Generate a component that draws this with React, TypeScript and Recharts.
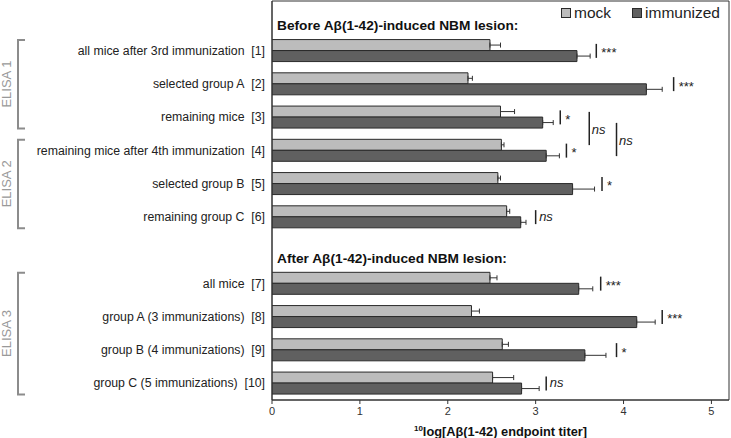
import React from 'react';
import {
  BarChart,
  Bar,
  XAxis,
  YAxis,
  ErrorBar,
  ReferenceArea,
  ReferenceDot,
  ReferenceLine,
  Legend,
} from 'recharts';

// ---------- data ----------
const rowKeys = ['1', '2', '3', '4', '5', '6', '7', '8', '9', '10'];
const rowLabels = [
  'all mice after 3rd immunization\u00A0\u00A0[1]',
  'selected group A\u00A0\u00A0[2]',
  'remaining mice\u00A0\u00A0[3]',
  'remaining mice after 4th immunization\u00A0\u00A0[4]',
  'selected group B\u00A0\u00A0[5]',
  'remaining group C\u00A0\u00A0[6]',
  'all mice\u00A0\u00A0[7]',
  'group A (3 immunizations)\u00A0\u00A0[8]',
  'group B (4 immunizations)\u00A0\u00A0[9]',
  'group C (5 immunizations)\u00A0\u00A0[10]',
];
const mockValues = [2.48, 2.23, 2.6, 2.61, 2.57, 2.67, 2.48, 2.27, 2.62, 2.51];
const mockErrors = [0.12, 0.05, 0.16, 0.03, 0.03, 0.035, 0.08, 0.09, 0.07, 0.24];
const immunizedValues = [3.47, 4.26, 3.08, 3.12, 3.42, 2.83, 3.49, 4.15, 3.56, 2.84];
const immunizedErrors = [0.15, 0.18, 0.12, 0.15, 0.25, 0.06, 0.16, 0.21, 0.24, 0.2];
const significance = ['***', '***', '*', '*', '*', 'ns', '***', '***', '*', 'ns'];
const significanceAt = [3.69, 4.57, 3.28, 3.35, 3.755, 3.0, 3.74, 4.44, 3.92, 3.12];

const sectionKeys = ['before', 'after'];
const sectionTitles = [
  'Before Aβ(1-42)-induced NBM lesion:',
  'After Aβ(1-42)-induced NBM lesion:',
];
const categoryOrder = ['before', '1', '2', '3', '4', '5', '6', 'after', '7', '8', '9', '10'];

const elisaNames = ['ELISA 1', 'ELISA 2', 'ELISA 3'];
const elisaFirst = ['1', '4', '7'];
const elisaLast = ['3', '6', '10'];

const comparisonFrom = ['3', '3'];
const comparisonTo = ['4', '4'];
const comparisonSeries = ['mock', 'immunized'];
const comparisonLabel = ['ns', 'ns'];
const comparisonAt = [3.61, 3.92];

const xTicks = [0, 1, 2, 3, 4, 5];
const xDomain = [0, 5.2];
const axisTitleSup = '10';
const axisTitleMain = 'log[Aβ(1-42) endpoint titer]';

const seriesNames = ['mock', 'immunized'];

// ---------- styles ----------
const FONT = '"Liberation Sans", Arial, Helvetica, sans-serif';
const MOCK_FILL = '#bcbcbc';
const IMM_FILL = '#606060';
const BORDER = '#2a2a2a';
const BRACKET = '#8c8c8c';
const seriesFill: Record<string, string> = { mock: MOCK_FILL, immunized: IMM_FILL };

const data = categoryOrder.map((key) => {
  const i = rowKeys.indexOf(key);
  if (i < 0) {
    return { key, mock: null, immunized: null, mockErr: null, immErr: null };
  }
  return {
    key,
    mock: mockValues[i],
    immunized: immunizedValues[i],
    mockErr: [0, mockErrors[i]],
    immErr: [0, immunizedErrors[i]],
  };
});

const YTick = (props: any) => {
  const { x, y, payload } = props;
  const i = rowKeys.indexOf(payload?.value);
  if (i < 0) return <g />;
  return (
    <text
      x={x}
      y={y}
      textAnchor="end"
      dominantBaseline="central"
      fontSize={12.3}
      fontFamily={FONT}
      fill="#222"
    >
      {rowLabels[i]}
    </text>
  );
};

const AxisTitle = (props: any) => {
  const vb = props.viewBox || {};
  const cx = vb.x + vb.width / 2;
  const y = vb.y + 36;
  return (
    <text
      x={cx}
      y={y}
      textAnchor="middle"
      fontFamily={FONT}
      fontWeight="bold"
      fontSize={12.8}
      fill="#111"
    >
      <tspan fontSize={8} dy={-5}>{axisTitleSup}</tspan>
      <tspan dy={5}>{axisTitleMain}</tspan>
    </text>
  );
};

const LegendContent = () => {
  return (
    <div style={{ display: 'flex', alignItems: 'center', fontFamily: FONT, fontSize: 15.5, color: '#222' }}>
      {seriesNames.map((name: string, idx: number) => (
        <div key={name} style={{ display: 'flex', alignItems: 'center', marginLeft: idx === 0 ? 0 : 21 }}>
          <div
            style={{
              width: 8,
              height: 8,
              background: seriesFill[name],
              border: `1px solid ${BORDER}`,
              marginRight: 3,
            }}
          />
          <span style={{ lineHeight: '18px' }}>{name}</span>
        </div>
      ))}
    </div>
  );
};

export default function App() {
  return (
    <div style={{ position: 'absolute', left: 0, top: 0, width: 731, height: 438, background: '#fff' }}>
      <BarChart
        width={731}
        height={438}
        data={data}
        layout="vertical"
        margin={{ top: 1, right: 2, bottom: 0, left: 0 }}
        barCategoryGap="16%"
        barGap={0}
      >
        <XAxis
          type="number"
          domain={xDomain}
          ticks={xTicks}
          allowDataOverflow
          height={38}
          axisLine={{ stroke: '#333' }}
          tickLine={{ stroke: '#333' }}
          tickSize={4}
          tickMargin={3}
          tick={{ fontSize: 11, fill: '#333', fontFamily: FONT }}
          label={{ content: (p: any) => <AxisTitle {...p} /> }}
        />
        <YAxis
          type="category"
          dataKey="key"
          width={272}
          axisLine={{ stroke: '#333' }}
          tickLine={false}
          tickSize={0}
          tickMargin={7}
          interval={0}
          tick={<YTick />}
        />
        <ReferenceArea x1={0} x2={xDomain[1]} fill="none" stroke="#333" strokeWidth={1} ifOverflow="visible" />
        <Bar dataKey="mock" name="mock" fill={MOCK_FILL} stroke={BORDER} strokeWidth={1} isAnimationActive={false}>
          <ErrorBar dataKey="mockErr" direction="x" width={2.5} stroke="#333" strokeWidth={1} />
        </Bar>
        <Bar dataKey="immunized" name="immunized" fill={IMM_FILL} stroke={BORDER} strokeWidth={1} isAnimationActive={false}>
          <ErrorBar dataKey="immErr" direction="x" width={2.5} stroke="#333" strokeWidth={1} />
        </Bar>

        {sectionKeys.map((k, i) => (
          <ReferenceDot
            key={k}
            x={0}
            y={k}
            ifOverflow="visible"
            shape={(p: any) => (
              <text
                x={p.cx + 5}
                y={p.cy + 8}
                dominantBaseline="central"
                fontFamily={FONT}
                fontWeight="bold"
                fontSize={13.7}
                fill="#111"
              >
                {sectionTitles[i]}
              </text>
            )}
          />
        ))}

        {rowKeys.map((k, i) => (
          <ReferenceDot
            key={'sig' + k}
            x={significanceAt[i]}
            y={k}
            ifOverflow="visible"
            shape={(p: any) => {
              const isNs = significance[i] === 'ns';
              return (
                <g>
                  <line x1={p.cx} x2={p.cx} y1={p.cy - 7} y2={p.cy + 7} stroke="#222" strokeWidth={1.5} />
                  <text
                    x={p.cx + (isNs ? 3.5 : 5)}
                    y={p.cy + (isNs ? 4 : 6.5)}
                    fontFamily={FONT}
                    fontSize={13}
                    fontStyle={isNs ? 'italic' : 'normal'}
                    fill="#222"
                  >
                    {significance[i]}
                  </text>
                </g>
              );
            }}
          />
        ))}

        {comparisonAt.map((at, i) => (
          <ReferenceLine
            key={'cmp' + i}
            segment={[
              { x: at, y: comparisonFrom[i] },
              { x: at, y: comparisonTo[i] },
            ]}
            ifOverflow="visible"
            shape={(p: any) => {
              const off = comparisonSeries[i] === 'mock' ? -5.5 : 5.5;
              const ya = p.y1 + off;
              const yb = p.y2 + off;
              return (
                <g>
                  <line x1={p.x1} x2={p.x1} y1={ya} y2={yb} stroke="#222" strokeWidth={1.5} />
                  <text
                    x={p.x1 + 2.5}
                    y={(ya + yb) / 2 + 5}
                    fontFamily={FONT}
                    fontSize={13}
                    fontStyle="italic"
                    fill="#222"
                  >
                    {comparisonLabel[i]}
                  </text>
                </g>
              );
            }}
          />
        ))}

        {elisaNames.map((name, i) => (
          <ReferenceLine
            key={name}
            segment={[
              { x: 0, y: elisaFirst[i] },
              { x: 0, y: elisaLast[i] },
            ]}
            ifOverflow="visible"
            shape={(p: any) => {
              const top = p.y1 - 11;
              const bottom = p.y2 + 11;
              const mid = (top + bottom) / 2;
              return (
                <g>
                  <path
                    d={`M25,${top} L18,${top} L18,${bottom} L25,${bottom}`}
                    fill="none"
                    stroke={BRACKET}
                    strokeWidth={2}
                  />
                  <text
                    x={6}
                    y={mid}
                    transform={`rotate(-90, 6, ${mid})`}
                    textAnchor="middle"
                    dominantBaseline="central"
                    fontFamily={FONT}
                    fontSize={13}
                    fill="#999"
                  >
                    {name}
                  </text>
                </g>
              );
            }}
          />
        ))}

        <Legend
          layout="horizontal"
          verticalAlign="middle"
          align="center"
          wrapperStyle={{ top: 4, left: 561, width: 170, height: 20 }}
          content={() => <LegendContent />}
        />
      </BarChart>
    </div>
  );
}
